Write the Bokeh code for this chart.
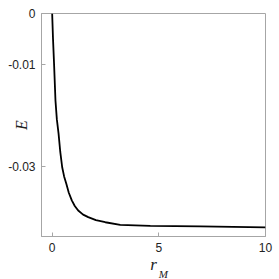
import math
from bokeh.plotting import figure
from bokeh.models import Range1d, FixedTicker, Label
from bokeh.embed import file_html
from bokeh.resources import INLINE

# data
r_M = [0.0, 0.04, 0.09, 0.155, 0.22, 0.30, 0.38, 0.47, 0.56, 0.66, 0.78, 0.92, 1.06, 1.22,
       1.45, 1.69, 2.05, 2.49, 3.19, 4.6, 6.95, 10.0]
E = [0.0, -0.0050, -0.0100, -0.0171, -0.0208, -0.0236, -0.0272, -0.0302, -0.0320, -0.0334,
     -0.0352, -0.0367, -0.0378, -0.0387, -0.0395, -0.0400, -0.0406, -0.0410, -0.0415,
     -0.0417, -0.0418, -0.0420]
x_ticks = [0, 5, 10]
y_ticks = [0, -0.01, -0.03]
y_tick_labels = {0: "0", -0.01: "-0.01", -0.03: "-0.03"}

grey = "#a6a6a6"

p = figure(width=279, height=279, output_backend="svg", toolbar_location=None,
           x_range=Range1d(-0.5, 10), y_range=Range1d(-0.0438, 0),
           min_border_left=41, min_border_right=14, min_border_top=13, min_border_bottom=43)
p.outline_line_color = grey
p.grid.visible = False

p.line(r_M, E, line_color="black", line_width=1.8)

for ax in (p.xaxis[0], p.yaxis[0]):
    ax.axis_line_color = grey
    ax.major_tick_line_color = grey
    ax.major_tick_in = 4
    ax.major_tick_out = 0
    ax.minor_tick_line_color = None
    ax.major_label_text_font = "Liberation Sans"
    ax.major_label_text_font_size = "12px"
    ax.major_label_text_color = "#222222"
    ax.major_label_standoff = 6
    ax.axis_label_text_font = "Liberation Serif"
    ax.axis_label_text_font_style = "italic"
    ax.axis_label_text_color = "#222222"

p.xaxis[0].ticker = FixedTicker(ticks=x_ticks)
p.yaxis[0].ticker = FixedTicker(ticks=y_ticks)
p.yaxis[0].major_label_overrides = y_tick_labels

p.yaxis[0].axis_label = "E"
p.yaxis[0].axis_label_text_font_size = "16px"
p.yaxis[0].axis_label_standoff = -25

p.xaxis[0].axis_label = "r"
p.xaxis[0].axis_label_text_font_size = "17px"
p.xaxis[0].axis_label_standoff = 0

p.add_layout(Label(x=5.21, y=-0.0438, y_offset=-37, text="M", text_font="Liberation Serif",
                   text_font_style="italic", text_font_size="11px", text_align="center",
                   text_baseline="alphabetic", text_color="#222222"), "right")

open("out.html", "w").write(file_html(p, INLINE))
